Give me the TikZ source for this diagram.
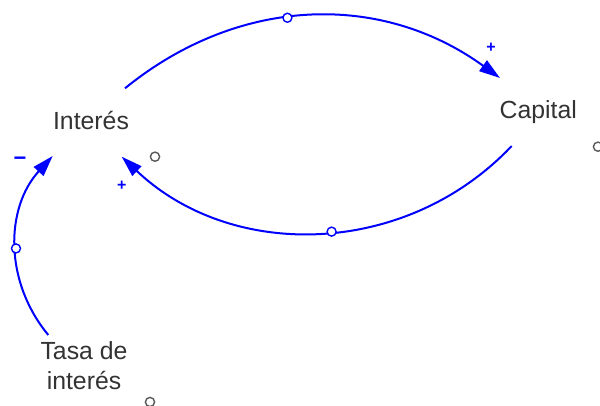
\documentclass[tikz,border=0pt]{standalone}
\usepackage{fontspec}
\setmainfont{Liberation Sans}
\usetikzlibrary{arrows.meta}

\begin{document}
\begin{tikzpicture}[x=0.5pt, y=0.5pt, >={Triangle[length=10.5pt,width=6.5pt]},
  var/.style={text=black!80, font=\fontsize{12.4}{15}\selectfont, inner sep=0pt},
  link/.style={draw=blue, line width=1pt, ->},
  handle/.style={circle, draw=blue, fill=white, line width=0.7pt,
    minimum size=4.5pt, inner sep=0pt},
  ring/.style={circle, draw=black!65, line width=0.7pt, minimum size=4.6pt, inner sep=0pt},
  sign/.style={text=blue, font=\fontsize{8}{8}\selectfont\bfseries, inner sep=0pt}]
  \useasboundingbox (0,0) rectangle (600,406);
  \node[var, anchor=base] (interes) at (91,276.5) {Interés};
  \node[var, anchor=base] (capital) at (538.3,287) {Capital};
  \node[var, align=center] (tasa) at (84,40.6) {Tasa de\\interés};
  % causal links
  \draw[link] ([shift={(34,41.2)}]interes.base) to[bend left=37.5]
    node[handle, pos=0.44] (h1) {} ([shift={(-38.3,41)}]capital.base);
  \draw[link] ([shift={(-26.6,-27)}]capital.base) to[bend left=45]
    node[handle, pos=0.47] (h2) {} ([shift={(30.7,-27.2)}]interes.base);
  \draw[link] ([shift={(-35.7,30.4)}]tasa.center) to[bend left=41]
    node[handle, pos=0.48] (h3) {} ([shift={(-38.3,-26.5)}]interes.base);
  % polarities
  \node[sign] (p1) at (491,357.7) {+};
  \node[sign] (p2) at (121.7,220) {+};
  \node[sign, font=\fontsize{11}{11}\selectfont\bfseries] (p3) at (20,244.3) {−};
  % loose markers
  \node[ring] (r1) at (155,249.3) {};
  \node[ring] (r2) at (598,259.3) {};
  \node[ring] (r3) at (150,4) {};
\end{tikzpicture}
\end{document}
